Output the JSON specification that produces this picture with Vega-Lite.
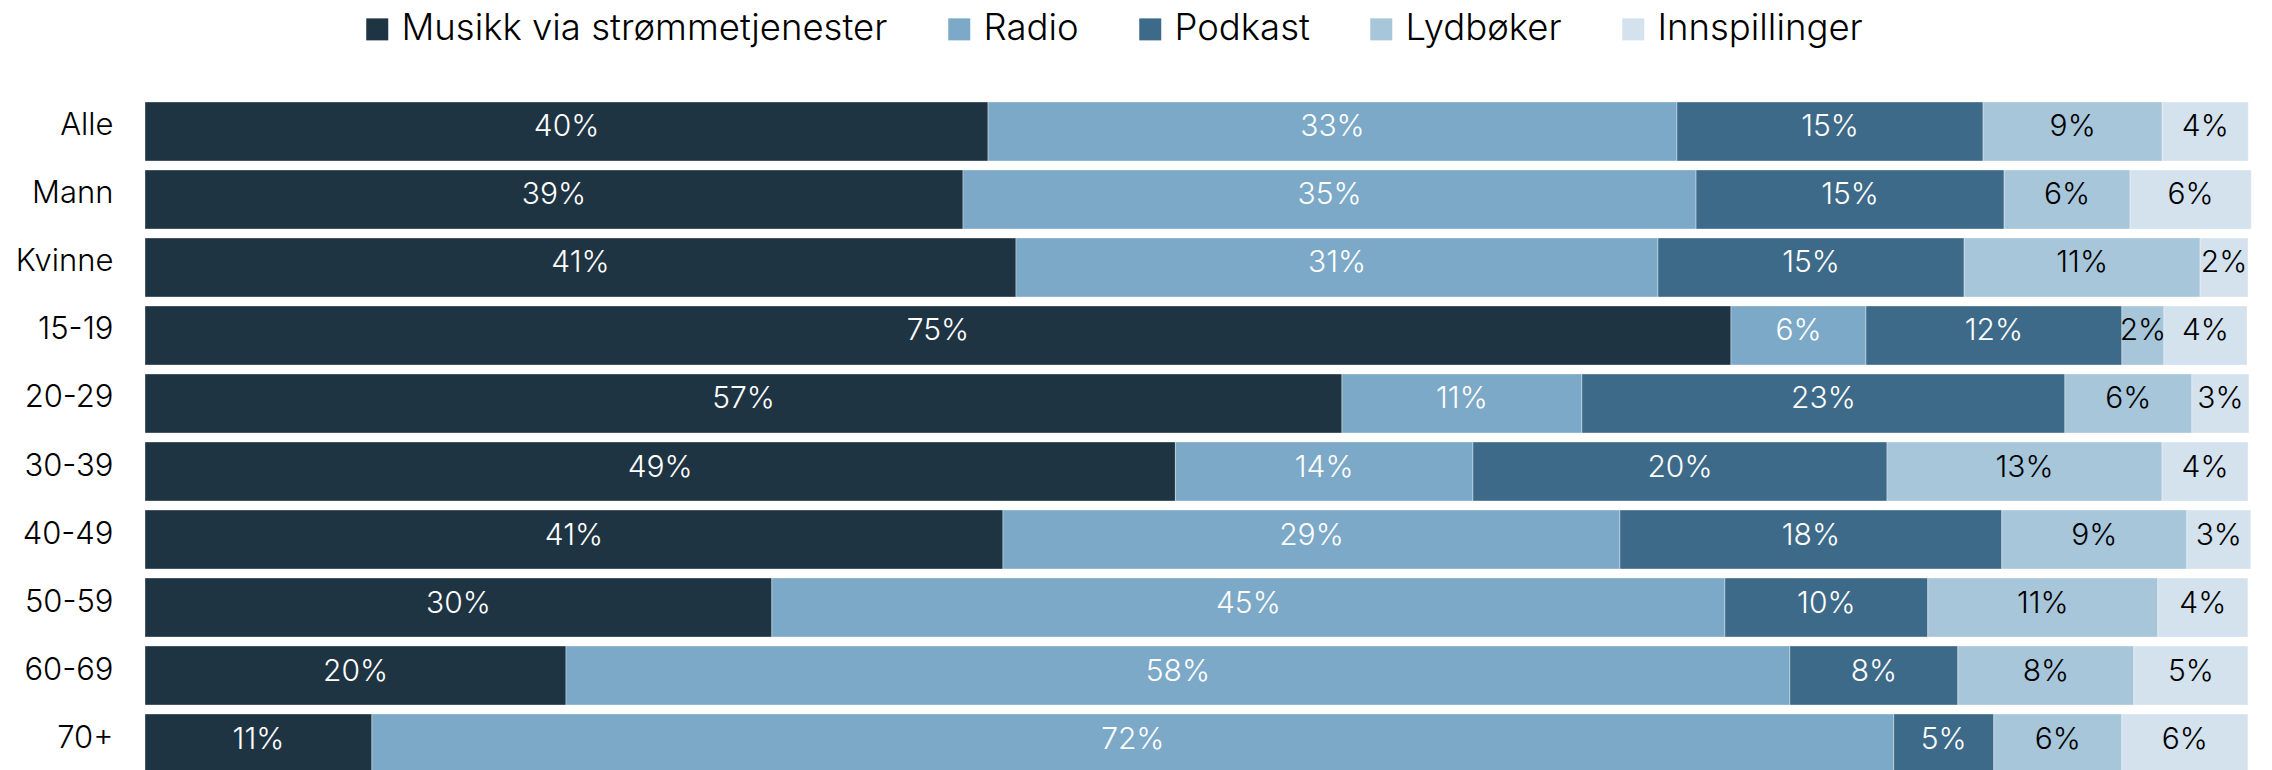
{
  "$schema": "https://vega.github.io/schema/vega-lite/v6.json",
  "width": 2106,
  "height": 672,
  "autosize": {"type": "none"},
  "padding": {"left": 145, "top": 98, "right": 21, "bottom": 0},
  "background": "white",
  "config": {
    "view": {"stroke": null},
    "font": "Inter",
    "legend": {
      "orient": "none",
      "legendX": 214,
      "legendY": -87,
      "direction": "horizontal",
      "symbolType": "square",
      "symbolSize": 484,
      "symbolStrokeWidth": 0,
      "labelFontSize": 36.5,
      "labelFont": "Inter",
      "labelFontWeight": 300,
      "labelColor": "#000000",
      "labelOffset": 6,
      "columnPadding": 53,
      "labelLimit": 0,
      "title": null
    }
  },
  "datasets": {
    "series": [
      {"serie": "Musikk via strømmetjenester", "rank": 1},
      {"serie": "Radio", "rank": 2},
      {"serie": "Podkast", "rank": 3},
      {"serie": "Lydbøker", "rank": 4},
      {"serie": "Innspillinger", "rank": 5}
    ]
  },
  "data": {"values": [
    {"group": "Alle", "serie": "Musikk via strømmetjenester", "value": 0.4009},
    {"group": "Alle", "serie": "Radio", "value": 0.3276},
    {"group": "Alle", "serie": "Podkast", "value": 0.1456},
    {"group": "Alle", "serie": "Lydbøker", "value": 0.0852},
    {"group": "Alle", "serie": "Innspillinger", "value": 0.0409},
    {"group": "Mann", "serie": "Musikk via strømmetjenester", "value": 0.3890},
    {"group": "Mann", "serie": "Radio", "value": 0.3486},
    {"group": "Mann", "serie": "Podkast", "value": 0.1465},
    {"group": "Mann", "serie": "Lydbøker", "value": 0.0599},
    {"group": "Mann", "serie": "Innspillinger", "value": 0.0576},
    {"group": "Kvinne", "serie": "Musikk via strømmetjenester", "value": 0.4142},
    {"group": "Kvinne", "serie": "Radio", "value": 0.3053},
    {"group": "Kvinne", "serie": "Podkast", "value": 0.1456},
    {"group": "Kvinne", "serie": "Lydbøker", "value": 0.1122},
    {"group": "Kvinne", "serie": "Innspillinger", "value": 0.0228},
    {"group": "15-19", "serie": "Musikk via strømmetjenester", "value": 0.7542},
    {"group": "15-19", "serie": "Radio", "value": 0.0642},
    {"group": "15-19", "serie": "Podkast", "value": 0.1217},
    {"group": "15-19", "serie": "Lydbøker", "value": 0.0200},
    {"group": "15-19", "serie": "Innspillinger", "value": 0.0395},
    {"group": "20-29", "serie": "Musikk via strømmetjenester", "value": 0.5692},
    {"group": "20-29", "serie": "Radio", "value": 0.1141},
    {"group": "20-29", "serie": "Podkast", "value": 0.2297},
    {"group": "20-29", "serie": "Lydbøker", "value": 0.0604},
    {"group": "20-29", "serie": "Innspillinger", "value": 0.0271},
    {"group": "30-39", "serie": "Musikk via strømmetjenester", "value": 0.4900},
    {"group": "30-39", "serie": "Radio", "value": 0.1415},
    {"group": "30-39", "serie": "Podkast", "value": 0.1969},
    {"group": "30-39", "serie": "Lydbøker", "value": 0.1308},
    {"group": "30-39", "serie": "Innspillinger", "value": 0.0409},
    {"group": "40-49", "serie": "Musikk via strømmetjenester", "value": 0.4080},
    {"group": "40-49", "serie": "Radio", "value": 0.2934},
    {"group": "40-49", "serie": "Podkast", "value": 0.1816},
    {"group": "40-49", "serie": "Lydbøker", "value": 0.0880},
    {"group": "40-49", "serie": "Innspillinger", "value": 0.0304},
    {"group": "50-59", "serie": "Musikk via strømmetjenester", "value": 0.2981},
    {"group": "50-59", "serie": "Radio", "value": 0.4532},
    {"group": "50-59", "serie": "Podkast", "value": 0.0965},
    {"group": "50-59", "serie": "Lydbøker", "value": 0.1094},
    {"group": "50-59", "serie": "Innspillinger", "value": 0.0428},
    {"group": "60-69", "serie": "Musikk via strømmetjenester", "value": 0.2002},
    {"group": "60-69", "serie": "Radio", "value": 0.5820},
    {"group": "60-69", "serie": "Podkast", "value": 0.0799},
    {"group": "60-69", "serie": "Lydbøker", "value": 0.0837},
    {"group": "60-69", "serie": "Innspillinger", "value": 0.0542},
    {"group": "70+", "serie": "Musikk via strømmetjenester", "value": 0.1079},
    {"group": "70+", "serie": "Radio", "value": 0.7237},
    {"group": "70+", "serie": "Podkast", "value": 0.0476},
    {"group": "70+", "serie": "Lydbøker", "value": 0.0609},
    {"group": "70+", "serie": "Innspillinger", "value": 0.0599}
  ]},
  "transform": [
    {"lookup": "serie", "from": {"data": {"name": "series"}, "key": "serie", "fields": ["rank"]}},
    {"stack": "value", "groupby": ["group"], "sort": [{"field": "rank", "order": "ascending"}], "as": ["v0", "v1"]},
    {"calculate": "(datum.v0 + datum.v1) / 2", "as": "mid"}
  ],
  "encoding": {
    "y": {
      "field": "group",
      "type": "nominal",
      "sort": ["Alle", "Mann", "Kvinne", "15-19", "20-29", "30-39", "40-49", "50-59", "60-69", "70+"],
      "scale": {"range": [0, 679], "paddingInner": 0.1324, "paddingOuter": 0.0588},
      "axis": {
        "title": null,
        "domain": false,
        "ticks": false,
        "labelFontSize": 31,
        "labelFont": "Inter",
        "labelFontWeight": 300,
        "labelColor": "#000000",
        "labelPadding": 32,
        "labelOffset": -5
      }
    }
  },
  "layer": [
    {
      "mark": {"type": "bar", "stroke": "#ffffff", "strokeWidth": 0.6, "strokeOpacity": 0.6},
      "encoding": {
        "x": {"field": "v0", "type": "quantitative", "scale": {"domain": [0, 1.0015], "nice": false, "zero": true}, "axis": null},
        "x2": {"field": "v1"},
        "color": {
          "field": "serie",
          "type": "nominal",
          "scale": {
            "domain": ["Musikk via strømmetjenester", "Radio", "Podkast", "Lydbøker", "Innspillinger"],
            "range": ["#1f3443", "#7ba9c7", "#3d6a89", "#a7c6da", "#d4e2ed"]
          }
        }
      }
    },
    {
      "mark": {"type": "text", "fontSize": 30, "font": "Inter", "fontWeight": 300, "align": "center", "baseline": "middle", "dy": -4},
      "encoding": {
        "x": {"field": "mid", "type": "quantitative"},
        "text": {"field": "value", "type": "quantitative", "format": ".0%"},
        "color": {
          "condition": {"test": "datum.serie === 'Lydbøker' || datum.serie === 'Innspillinger'", "value": "#000000"},
          "value": "#ffffff"
        }
      }
    }
  ]
}
